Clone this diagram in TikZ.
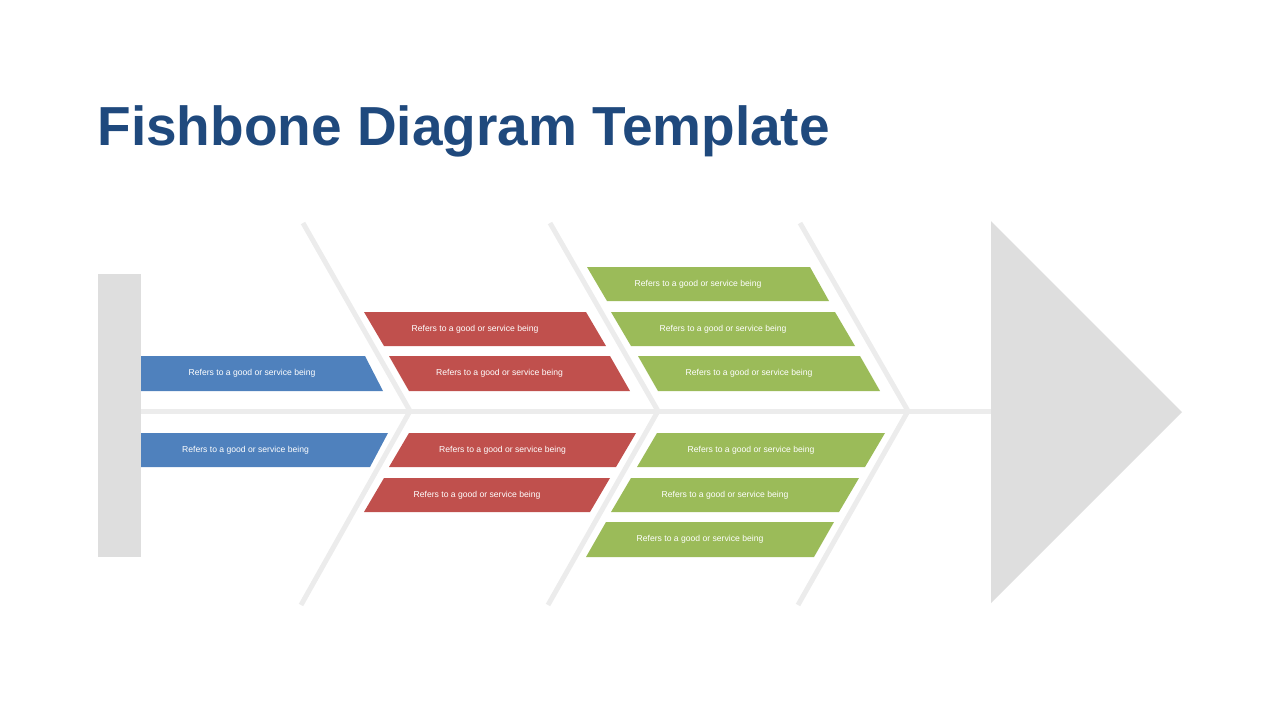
\documentclass[tikz,border=0pt]{standalone}
\usepackage{fontspec}
\setmainfont{Liberation Sans}
\usetikzlibrary{positioning}
\definecolor{titleblue}{RGB}{31,73,125}
\definecolor{boneblue}{RGB}{79,129,189}
\definecolor{bonered}{RGB}{192,80,77}
\definecolor{bonegreen}{RGB}{155,187,89}
\definecolor{bonegray}{RGB}{222,222,222}
\definecolor{spinegray}{RGB}{236,236,236}
\tikzset{%
bone/.style={draw=spinegray, line width=2.5pt},
cause/.style={text=white, font=\fontsize{4.3}{5}\selectfont, inner sep=0pt}
}
% name, colour, y top, y bottom, x top left, x top right, x bottom right, x bottom left
\newcommand\causebox[8]{%
\fill[#2] (#5,#3) -- (#6,#3) -- (#7,#4) -- (#8,#4) -- cycle;
\node[cause] (#1) at ({(#5+#7)/2-10},{(#3+#4)/2}) {Refers to a good or service being};
}
\begin{document}
\begin{tikzpicture}[x=0.5pt,y=-0.5pt]
\useasboundingbox (0,0) rectangle (1280,720);
\node[anchor=base west, inner sep=0pt, text=titleblue, font=\fontsize{27.5}{30}\selectfont\bfseries] (title) at (97,145) {Fishbone Diagram Template};

% spine and bones
\coordinate (tail) at (125,411);
\coordinate (head) at (1085,411);
\draw[bone] (tail) -- (head);
\foreach \x/\j in {303/410, 550/658, 800/908}{
  \draw[bone] (\x,223) -- (\j,411) -- (\x-2,605);
}
\fill[bonegray] (98,274) rectangle (141,557);
\fill[bonegray] (991,221) -- (1182,412) -- (991,603) -- cycle;

% causes
\causebox{b1}{boneblue}{356}{391}{141}{365}{383}{141}
\causebox{b2}{boneblue}{433}{467}{141}{388}{370}{141}
\causebox{r1}{bonered}{312}{346}{364}{586}{606}{384}
\causebox{r2}{bonered}{356}{391}{389}{610}{630}{409}
\causebox{r3}{bonered}{433}{467}{409}{636}{616}{389}
\causebox{r4}{bonered}{478}{512}{384}{610}{590}{364}
\causebox{g1}{bonegreen}{267}{301}{587}{810}{829}{607}
\causebox{g2}{bonegreen}{312}{346}{611}{835}{855}{631}
\causebox{g3}{bonegreen}{356}{391}{638}{860}{880}{658}
\causebox{g4}{bonegreen}{433}{467}{657}{885}{865}{637}
\causebox{g5}{bonegreen}{478}{512}{631}{859}{839}{611}
\causebox{g6}{bonegreen}{522}{557}{606}{834}{814}{586}
\end{tikzpicture}
\end{document}
